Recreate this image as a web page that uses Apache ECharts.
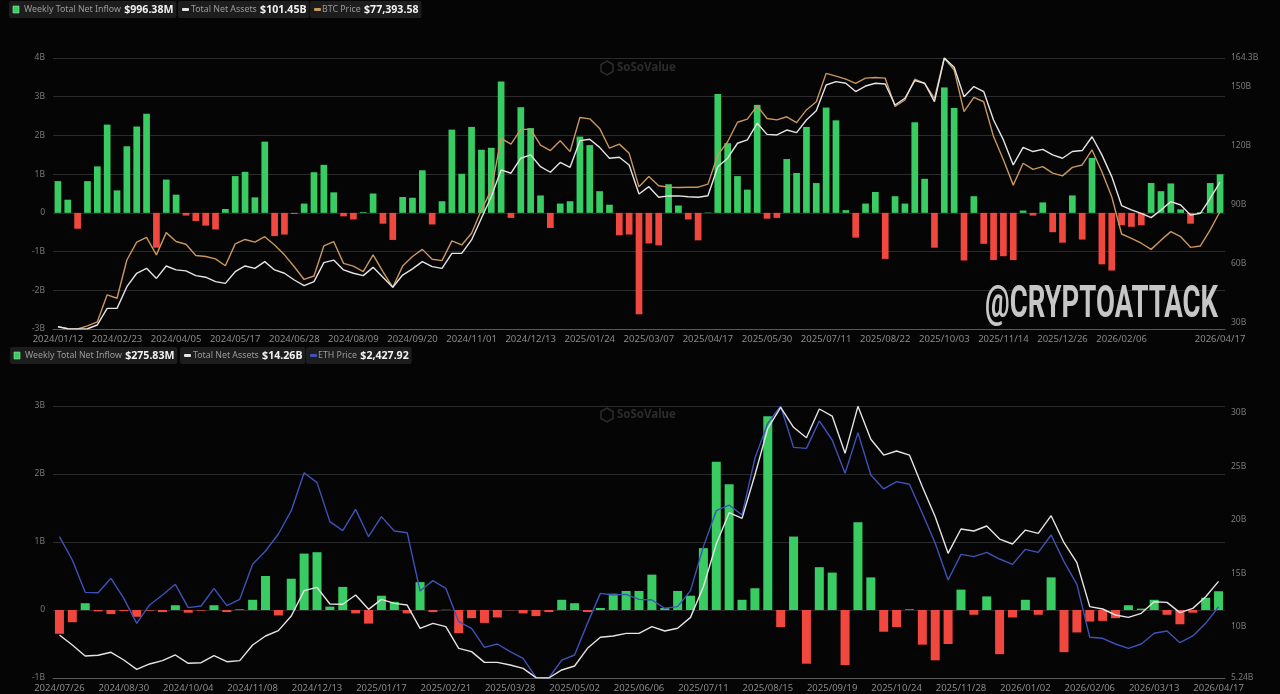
<!DOCTYPE html>
<html><head><meta charset="utf-8">
<script src="https://cdn.jsdelivr.net/npm/echarts@6/dist/echarts.min.js"></script>
<style>html,body{margin:0;padding:0;background:#050505;}#c{width:1280px;height:694px;}</style>
</head><body><div id="c"></div>
<script>
// ---------- BTC spot ETF panel (weekly, 2024/01/12 .. 2026/04/17) ----------
const btcInflowB = [0.82,0.34,-0.41,0.82,1.20,2.28,0.58,1.72,2.23,2.56,
 -0.90,0.86,0.47,-0.07,-0.21,-0.33,-0.43,0.10,0.95,1.06,
 0.40,1.84,-0.60,-0.56,-0.03,0.24,1.05,1.24,0.53,-0.09,
 -0.17,0.02,0.50,-0.28,-0.70,0.41,0.39,1.10,-0.30,0.30,
 2.15,1.01,2.22,1.63,1.68,3.39,-0.13,2.73,2.19,0.45,
 -0.39,0.24,0.30,1.97,1.75,0.56,0.21,-0.58,-0.56,-2.62,
 -0.79,-0.84,0.74,0.19,-0.17,-0.71,0.01,3.07,1.80,0.95,
 0.60,2.79,-0.15,-0.13,1.39,1.03,2.22,0.77,2.72,2.39,
 0.07,-0.64,0.24,0.54,-1.19,0.43,0.24,2.34,0.88,-0.90,
 3.24,2.71,-1.23,0.43,-0.80,-1.22,-1.12,-1.22,0.06,-0.07,
 0.27,-0.50,-0.77,0.45,-0.69,1.42,-1.33,-1.49,-0.32,-0.36,
 -0.32,0.77,0.56,0.76,0.09,-0.28,0.02,0.77,0.99638];
const btcNetAssetsB = [28.1,27.1,27.0,27.1,29.0,37.4,37.4,48.4,55.2,57.7,
 52.6,58.9,56.9,56.4,54.0,53.2,51.0,50.1,56.0,58.9,
 57.7,61.1,56.9,55.2,51.8,48.9,51.0,60.6,61.9,56.9,
 55.2,54.0,58.2,53.2,48.1,54.3,57.4,61.1,58.6,57.7,
 65.3,65.3,72.1,83.1,94.0,107.6,105.9,113.5,115.2,109.2,
 106.4,111.4,108.9,122.4,123.1,119.0,113.5,114.0,110.1,95.4,
 99.1,93.7,94.4,94.4,94.0,93.7,94.5,109.2,113.5,121.1,
 122.8,131.2,125.6,125.3,127.8,126.5,132.9,137.6,150.6,152.3,
 151.5,147.3,150.1,151.5,151.1,140.5,143.9,152.8,151.5,142.2,
 164.3,159.6,144.7,149.8,147.3,132.9,122.8,110.1,119.0,116.9,
 118.0,115.2,113.5,116.9,117.4,124.4,115.2,104.2,89.5,87.3,
 85.6,83.4,87.3,91.5,89.8,84.7,85.6,93.2,101.45];
const btcPriceK = [43.7,43.1,43.0,43.9,45.1,53.0,52.0,63.2,68.4,69.8,
 64.7,71.2,68.6,67.8,64.5,64.2,63.5,61.5,67.9,69.2,
 68.4,70.0,67.6,64.7,61.2,57.5,58.5,67.3,68.6,62.2,
 61.4,59.8,64.7,59.8,55.2,61.4,64.2,66.3,63.4,63.0,
 68.8,67.6,71.0,77.8,83.7,98.8,97.1,101.4,101.4,96.8,
 95.2,98.1,94.9,104.9,104.5,101.7,95.9,97.1,94.4,84.6,
 87.6,84.9,84.5,84.4,84.5,84.5,85.4,93.9,97.8,103.5,
 104.4,108.3,104.6,104.2,105.1,103.4,107.1,109.5,117.8,117.0,
 116.1,114.9,116.4,116.6,116.4,108.1,110.0,116.1,114.9,110.5,
 122.3,118.8,106.6,110.8,109.5,99.3,92.5,85.1,91.5,89.7,
 90.5,88.6,87.8,90.3,91.0,95.4,89.0,81.7,70.8,69.5,
 68.1,66.3,69.0,71.5,70.0,66.9,67.3,72.0,77.39358];
const btcLeftTicks = [-3, 4];            // min / max of inflow axis (B)
const btcRightTicks = [30, 60, 90, 120, 150, 164.3];

// ---------- ETH spot ETF panel (weekly, 2024/07/26 .. 2026/04/17) ----------
const ethInflowB = [-0.35,-0.18,0.10,-0.02,-0.06,-0.015,-0.10,-0.01,-0.03,0.07,
 -0.04,-0.01,0.07,-0.03,0.01,0.15,0.50,-0.08,0.46,0.83,
 0.85,0.05,0.34,-0.05,-0.20,0.21,0.12,-0.05,0.41,-0.03,
 0.004,-0.34,-0.12,-0.19,-0.11,-0.004,-0.05,-0.09,-0.03,0.15,
 0.10,-0.03,0.03,0.24,0.28,0.28,0.52,0.03,0.28,0.21,
 0.91,2.18,1.85,0.15,0.32,2.85,-0.25,1.08,-0.79,0.63,
 0.55,-0.81,1.29,0.48,-0.32,-0.25,0.01,-0.51,-0.74,-0.50,
 0.30,-0.07,0.20,-0.65,-0.11,0.15,-0.07,0.48,-0.62,-0.33,
 -0.17,-0.16,-0.12,0.07,0.02,0.15,-0.07,-0.21,-0.04,0.18,
 0.27583];
const ethNetAssetsB = [9.25,8.32,7.29,7.36,7.64,6.92,6.05,6.55,6.86,7.39,
 6.61,6.67,7.32,6.76,6.86,8.32,9.16,9.66,11.03,13.39,
 13.70,12.15,12.12,12.99,11.65,12.58,12.21,12.05,9.88,10.34,
 10.03,8.01,7.70,6.70,6.70,6.45,6.14,5.27,5.24,5.99,
 6.36,8.01,9.04,9.16,9.41,9.41,10.03,9.63,9.88,10.90,
 13.76,17.75,20.67,20.14,24.19,28.54,30.50,28.64,27.67,30.35,
 29.69,26.21,30.60,27.52,26.05,26.43,26.05,23.10,20.30,16.88,
 19.15,18.96,19.43,18.21,17.75,19.05,18.74,20.39,17.87,16.00,
 11.90,11.68,11.12,10.90,11.28,12.36,12.30,11.34,11.74,12.83,
 14.26];
const ethPrice = [3266,2987,2600,2596,2768,2528,2229,2449,2568,2696,
 2417,2437,2648,2441,2516,2935,3095,3298,3577,4032,
 3913,3446,3338,3593,3266,3506,3334,3314,2616,2740,
 2648,2249,2169,1942,1982,1890,1810,1583,1575,1790,
 1850,2229,2588,2568,2576,2516,2508,2409,2429,2620,
 3147,3577,3645,3526,4204,4623,4830,4335,4323,4651,
 4423,4024,4511,4004,3837,3925,3893,3546,3187,2748,
 3055,3027,3079,2999,2935,3115,3079,3286,2967,2696,
 2062,2050,1982,1930,1982,2110,2137,1998,2078,2229,
 2427.92];
const ethLeftTicks = [-1, 3];
const ethRightTicks = [5.24, 10, 15, 20, 25, 30];

// weekly category labels
function weeks(start, n, fixes) {
  const out = []; const d = new Date(start + 'T00:00:00Z');
  for (let i = 0; i < n; i++) {
    const t = new Date(d.getTime() + i * 7 * 86400000);
    const s = t.getUTCFullYear() + '/' + String(t.getUTCMonth() + 1).padStart(2, '0') + '/' + String(t.getUTCDate()).padStart(2, '0');
    out.push(fixes[s] || s);
  }
  return out;
}
const holidayFix = {'2024/03/29': '2024/03/28', '2025/04/18': '2025/04/17', '2025/07/04': '2025/07/03', '2026/04/03': '2026/04/02'};
const btcDates = weeks('2024-01-12', btcInflowB.length, holidayFix);
const ethDates = weeks('2024-07-26', ethInflowB.length, holidayFix);

const GREEN = '#39cc62', RED = '#f0473f', WHITE = '#e4e4e4', ORANGE = '#c8965e', BLUE = '#3f52b8';
const GRID = '#2b2b2b', AX = '#8a8a8a';

const chart = echarts.init(document.getElementById('c'), null, {renderer: 'canvas'});

function fmtB(v) { return v === 0 ? '0' : (v + 'B'); }
function barColor(p) { return p.value >= 0 ? GREEN : RED; }

function xAxisFor(grid, data, intervalFn) {
  return {
    type: 'category', gridIndex: grid, data: data,
    axisLine: {onZero: false, lineStyle: {color: '#5a5a5a'}},
    axisTick: {show: false},
    axisLabel: {color: AX, fontSize: 9.5, margin: 5, interval: intervalFn, fontFamily: 'Noto Sans'},
    splitLine: {show: false}
  };
}
function leftAxis(grid, ticks) {
  return {
    type: 'value', gridIndex: grid, position: 'left', min: ticks[0], max: ticks[1], interval: 1,
    axisLine: {show: false}, axisTick: {show: false},
    axisLabel: {color: '#7a7a7a', fontSize: 8.5, margin: 8, formatter: fmtB, fontFamily: 'Noto Sans'},
    splitLine: {lineStyle: {color: GRID, width: 1}}
  };
}
function rightAxis(grid, min, max, ticks) {
  return {
    type: 'value', gridIndex: grid, position: 'right', min: min, max: max,
    axisLine: {show: false}, axisTick: {show: false, customValues: ticks},
    axisLabel: {color: '#7a7a7a', fontSize: 8.5, margin: 6, customValues: ticks,
      formatter: function (v) { return (+v.toFixed(2)) + 'B'; }, fontFamily: 'Noto Sans'},
    splitLine: {show: false}
  };
}
function hiddenAxis(grid, min, max) {
  return {type: 'value', gridIndex: grid, position: 'right', min: min, max: max, show: false, splitLine: {show: false}};
}

// measuring helper for legend boxes and watermark
const ctx = document.createElement('canvas').getContext('2d');
function textW(font, s) { ctx.font = font; return ctx.measureText(s).width; }
const LFONT = 'Noto Sans', LSIZE = 8.8, VSIZE = 10.6;

function legendBox(x, y, iconType, iconColor, label, value, textX) {
  const tw = textW(LSIZE + 'px "' + LFONT + '"', label + ' ') + textW('bold ' + VSIZE + 'px "' + LFONT + '"', value);
  const w = textX - x + tw + 4;
  const children = [
    {type: 'rect', shape: {x: x, y: y, width: w, height: 17, r: 2}, style: {fill: '#1d1d1d'}},
  ];
  if (iconType === 'square') {
    children.push({type: 'rect', shape: {x: x + 4, y: y + 5, width: 6, height: 7}, style: {fill: iconColor, stroke: '#9be3ad', lineWidth: 0.6}});
  } else {
    children.push({type: 'rect', shape: {x: x + 4, y: y + 7, width: 7, height: 3, r: 1}, style: {fill: iconColor}});
  }
  children.push({type: 'text', style: {x: textX, y: y + 8.5, verticalAlign: 'middle',
    text: '{l|' + label + '} {v|' + value + '}',
    rich: {l: {fill: '#9a9a9a', fontSize: LSIZE, fontFamily: LFONT},
           v: {fill: '#f2f2f2', fontSize: VSIZE, fontWeight: 'bold', fontFamily: LFONT}}}});
  return {type: 'group', children: children};
}

const wmFont = 'bold 44px Roboto';
const wmScale = 233 / textW(wmFont, '@CRYPTOATTACK');

function sosoMark(cx, cy) {
  return {type: 'group', children: [
    {type: 'polygon', shape: {points: [[cx, cy - 7], [cx + 6, cy - 3.5], [cx + 6, cy + 3.5], [cx, cy + 7], [cx - 6, cy + 3.5], [cx - 6, cy - 3.5]]},
      style: {fill: 'none', stroke: '#2c2c2c', lineWidth: 1.5}},
    {type: 'text', style: {x: cx + 10, y: cy, verticalAlign: 'middle', text: 'SoSoValue', fill: '#2c2c2c', fontSize: 11.5, fontWeight: 'bold', fontFamily: 'Noto Sans'}}
  ]};
}

const option = {
  backgroundColor: '#050505',
  animation: false,
  grid: [
    {left: 53, right: 55, top: 58, height: 271},
    {left: 53, right: 55, top: 406, height: 272}
  ],
  xAxis: [
    xAxisFor(0, btcDates, function (i) { return (i % 6 === 0 && i !== 114) || i === btcDates.length - 1; }),
    xAxisFor(1, ethDates, function (i) { return i % 5 === 0; })
  ],
  yAxis: [
    leftAxis(0, btcLeftTicks),
    rightAxis(0, 26.96, 164.3, btcRightTicks),
    hiddenAxis(0, 43.0, 122.3),
    leftAxis(1, ethLeftTicks),
    rightAxis(1, 5.24, 30.63, ethRightTicks),
    hiddenAxis(1, 1575, 4830)
  ],
  series: [
    {name: 'Weekly Total Net Inflow', type: 'bar', xAxisIndex: 0, yAxisIndex: 0, data: btcInflowB,
      barCategoryGap: '32%', itemStyle: {color: barColor}},
    {name: 'BTC Price', type: 'line', xAxisIndex: 0, yAxisIndex: 2, data: btcPriceK, symbol: 'none',
      lineStyle: {color: ORANGE, width: 1.4}, z: 3},
    {name: 'Total Net Assets', type: 'line', xAxisIndex: 0, yAxisIndex: 1, data: btcNetAssetsB, symbol: 'none',
      lineStyle: {color: WHITE, width: 1.4}, z: 4},
    {name: 'ETH Weekly Total Net Inflow', type: 'bar', xAxisIndex: 1, yAxisIndex: 3, data: ethInflowB,
      barCategoryGap: '30%', itemStyle: {color: barColor}},
    {name: 'ETH Price', type: 'line', xAxisIndex: 1, yAxisIndex: 5, data: ethPrice, symbol: 'none',
      lineStyle: {color: BLUE, width: 1.4}, z: 3},
    {name: 'ETH Total Net Assets', type: 'line', xAxisIndex: 1, yAxisIndex: 4, data: ethNetAssetsB, symbol: 'none',
      lineStyle: {color: WHITE, width: 1.4}, z: 4}
  ],
  graphic: [
    legendBox(9, 1, 'square', GREEN, 'Weekly Total Net Inflow', '$996.38M', 24),
    legendBox(178, 1, 'dash', WHITE, 'Total Net Assets', '$101.45B', 191),
    legendBox(310, 1, 'dash', ORANGE, 'BTC Price', '$77,393.58', 322),
    legendBox(10, 347, 'square', GREEN, 'Weekly Total Net Inflow', '$275.83M', 25),
    legendBox(180, 347, 'dash', WHITE, 'Total Net Assets', '$14.26B', 193),
    legendBox(306, 347, 'dash', BLUE, 'ETH Price', '$2,427.92', 318),
    sosoMark(607, 68),
    sosoMark(607, 415),
    {type: 'text', x: 985, y: 306, scaleX: wmScale, z: 100,
      style: {x: 0, y: 0, verticalAlign: 'middle', text: '@CRYPTOATTACK', font: wmFont, fill: '#c6c6c6'}}
  ]
};
chart.setOption(option);
</script></body></html>
